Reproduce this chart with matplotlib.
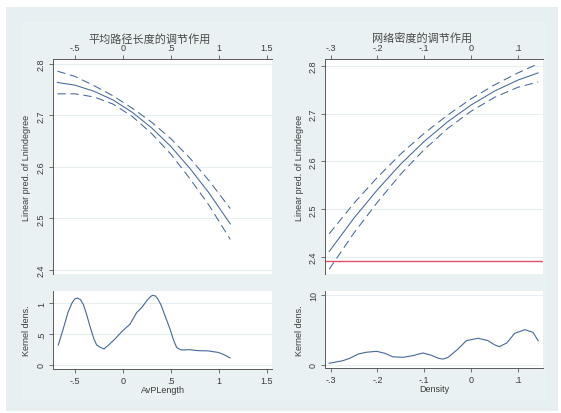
"""
调节效应图：平均路径长度与网络密度的边际预测及核密度分布。
"""

import matplotlib.pyplot as plt
import matplotlib.patches as patches

# 平均路径长度：预测值及 95% 置信区间
avpl_x = [-0.68, -0.5, -0.3, -0.1, 0.1, 0.3, 0.5, 0.7, 0.9, 1.12]
avpl_pred = [2.764, 2.759, 2.747, 2.730, 2.706, 2.676, 2.640, 2.597, 2.549, 2.489]
avpl_upper = [2.786, 2.776, 2.758, 2.738, 2.714, 2.687, 2.655, 2.617, 2.573, 2.519]
avpl_lower = [2.742, 2.742, 2.736, 2.722, 2.698, 2.665, 2.625, 2.577, 2.525, 2.459]

# 网络密度：预测值及 95% 置信区间
dens_x = [-0.303, -0.25, -0.20, -0.15, -0.10, -0.05, 0.00, 0.05, 0.10, 0.143]
dens_pred = [2.412, 2.482, 2.541, 2.595, 2.642, 2.683, 2.718, 2.747, 2.770, 2.785]
dens_upper = [2.449, 2.513, 2.567, 2.616, 2.659, 2.697, 2.731, 2.760, 2.785, 2.804]
dens_lower = [2.375, 2.451, 2.515, 2.574, 2.625, 2.669, 2.705, 2.734, 2.755, 2.766]
dens_ref = 2.392

# 核密度估计
kd_avpl_x = [-0.671, -0.62, -0.57, -0.53, -0.50, -0.473, -0.44, -0.41, -0.38, -0.34,
             -0.30, -0.271, -0.23, -0.195, -0.14, -0.08, 0.0, 0.076, 0.146, 0.198,
             0.25, 0.29, 0.312, 0.34, 0.37, 0.40, 0.44, 0.493, 0.53, 0.562,
             0.60, 0.632, 0.70, 0.76, 0.805, 0.89, 0.95, 0.996, 1.06, 1.118]
kd_avpl_y = [0.32, 0.58, 0.85, 1.00, 1.07, 1.086, 1.06, 0.98, 0.84, 0.62,
             0.42, 0.32, 0.28, 0.256, 0.33, 0.42, 0.554, 0.66, 0.85, 0.93,
             1.04, 1.11, 1.13, 1.12, 1.06, 0.97, 0.80, 0.58, 0.40, 0.28,
             0.245, 0.24, 0.245, 0.232, 0.228, 0.225, 0.21, 0.20, 0.16, 0.11]

kd_dens_x = [-0.303, -0.274, -0.259, -0.241, -0.224, -0.202, -0.184, -0.167, -0.145, -0.124,
             -0.103, -0.085, -0.07, -0.06, -0.049, -0.028, -0.010, 0.015, 0.036, 0.050,
             0.060, 0.076, 0.093, 0.115, 0.132, 0.143]
kd_dens_y = [0.2, 0.57, 0.92, 1.53, 1.78, 1.92, 1.63, 1.12, 1.06, 1.3,
             1.68, 1.35, 0.92, 0.80, 1.06, 2.25, 3.45, 3.79, 3.45, 2.85,
             2.58, 3.11, 4.5, 5.02, 4.65, 3.45]

# 刻度
avpl_xticks = [-0.5, 0, 0.5, 1, 1.5]
avpl_xlabels = ["-.5", "0", ".5", "1", "1.5"]
dens_xticks = [-0.3, -0.2, -0.1, 0, 0.1]
dens_xlabels = ["-.3", "-.2", "-.1", "0", ".1"]
pred_yticks = [2.4, 2.5, 2.6, 2.7, 2.8]
pred_ylabels = ["2.4", "2.5", "2.6", "2.7", "2.8"]
kd_avpl_yticks = [0, 0.5, 1]
kd_avpl_ylabels = ["0", ".5", "1"]
kd_dens_yticks = [0, 10]
kd_dens_ylabels = ["0", "10"]

LINE = "#46679a"
AXIS = "#5a5a5a"
GRID = "#e6eef1"
BG = "#e8eff2"
TEXT = "#3a3a3a"

plt.rcParams["font.family"] = ["Liberation Sans", "Noto Sans CJK SC"]
plt.rcParams["font.size"] = 6.5


def style_axes(ax, xticks, xlabels, yticks, ylabels, top):
    """Eixos no estilo Stata: eixo y à esquerda, eixo x em cima ou embaixo."""
    ax.set_facecolor("white")
    for side in ["left", "right", "top", "bottom"]:
        ax.spines[side].set_visible(False)
    ax.spines["left"].set_visible(True)
    ax.spines["top" if top else "bottom"].set_visible(True)
    for side in ["left", "top", "bottom"]:
        ax.spines[side].set_color(AXIS)
        ax.spines[side].set_linewidth(0.7)

    if top:
        ax.xaxis.tick_top()
    ax.set_xticks(xticks)
    ax.set_xticklabels(xlabels)
    ax.set_yticks(yticks)
    ax.set_yticklabels(ylabels, rotation=90, va="center")
    ax.tick_params(axis="both", length=3, width=0.6, color=AXIS,
                   labelsize=6.5, labelcolor=TEXT, pad=2)
    ax.grid(axis="y", color=GRID, linewidth=0.8)
    ax.set_axisbelow(True)


def plot_margins(ax, x, pred, upper, lower):
    ax.plot(x, pred, color=LINE, linewidth=0.75)
    for band in (upper, lower):
        ax.plot(x, band, color=LINE, linewidth=0.75, dashes=(8, 4.5))


fig = plt.figure(figsize=(5.61, 4.14), dpi=100)

# Fundo da figura
fig.patches.append(patches.Rectangle((6 / 561, 2 / 414), 552 / 561, 404 / 414,
                                     transform=fig.transFigure, facecolor=BG,
                                     edgecolor="none", zorder=-2))
fig.patches.append(patches.Rectangle((22 / 561, 13 / 414), 525 / 561, 378 / 414,
                                     transform=fig.transFigure, facecolor="#eaf1f3",
                                     edgecolor="none", zorder=-1))

ax1 = fig.add_axes([53 / 561, 1 - 275 / 414, 219 / 561, 215 / 414])
ax2 = fig.add_axes([53 / 561, 1 - 370 / 414, 219 / 561, 78.3 / 414])
ax3 = fig.add_axes([325 / 561, 1 - 275 / 414, 217.7 / 561, 215 / 414])
ax4 = fig.add_axes([325 / 561, 1 - 369.3 / 414, 217.7 / 561, 77 / 414])

# 平均路径长度
plot_margins(ax1, avpl_x, avpl_pred, avpl_upper, avpl_lower)
style_axes(ax1, avpl_xticks, avpl_xlabels, pred_yticks, pred_ylabels, top=True)
ax1.set_xlim(-0.726, 1.555)
ax1.set_ylim(2.3917, 2.8097)
ax1.set_ylabel("Linear pred. of Lnindegree", color=TEXT, labelpad=4)

ax2.plot(kd_avpl_x, kd_avpl_y, color=LINE, linewidth=0.8)
style_axes(ax2, avpl_xticks, avpl_xlabels, kd_avpl_yticks, kd_avpl_ylabels, top=False)
ax2.set_xlim(-0.726, 1.555)
ax2.set_ylim(-0.07, 1.205)
ax2.set_ylabel("Kernel dens.", color=TEXT, labelpad=4)
ax2.set_xlabel("AvPLength", color=TEXT, labelpad=0)

# 网络密度
plot_margins(ax3, dens_x, dens_pred, dens_upper, dens_lower)
ax3.axhline(dens_ref, color="#e0506e", linewidth=1.0)
style_axes(ax3, dens_xticks, dens_xlabels, pred_yticks, pred_ylabels, top=True)
ax3.set_xlim(-0.312, 0.1528)
ax3.set_ylim(2.365, 2.814)
ax3.set_ylabel("Linear pred. of Lnindegree", color=TEXT, labelpad=4)

ax4.plot(kd_dens_x, kd_dens_y, color=LINE, linewidth=0.8)
style_axes(ax4, dens_xticks, dens_xlabels, kd_dens_yticks, kd_dens_ylabels, top=False)
ax4.set_xlim(-0.312, 0.1528)
ax4.set_ylim(-0.52, 10.53)
ax4.set_ylabel("Kernel dens.", color=TEXT, labelpad=4)
ax4.set_xlabel("Density", color=TEXT, labelpad=0)

# 标题
fig.text(150 / 561, 1 - 39 / 414, "平均路径长度的调节作用", ha="center", va="center",
         fontsize=8, color="#4a4a4a", family=["Noto Sans CJK SC"])
fig.text(421.7 / 561, 1 - 39 / 414, "网络密度的调节作用", ha="center", va="center",
         fontsize=8, color="#4a4a4a", family=["Noto Sans CJK SC"])

plt.savefig("out.png", dpi=100)
